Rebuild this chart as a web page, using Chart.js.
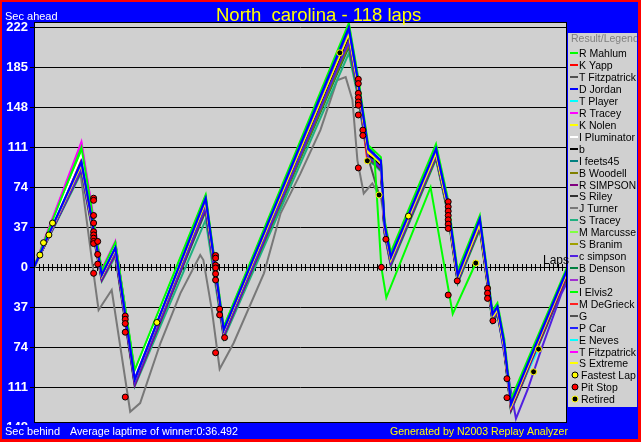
<!DOCTYPE html>
<html>
<head>
<meta charset="utf-8">
<script src="https://cdn.jsdelivr.net/npm/chart.js@4/dist/chart.umd.min.js"></script>
<style>
  html, body { margin: 0; padding: 0; background: #0000ff; }
  canvas { display: block; }
</style>
</head>
<body>
<canvas id="chart" width="641" height="442"></canvas>
<script>
// turning points of the race, shared by most drivers
const laps = [0, 10.5, 15, 18, 22.3, 38, 42, 69.7, 71.6, 74, 75.3, 76.8, 77.6, 79, 89, 91.5, 93.8, 98.7, 101.5, 102.6, 104.1, 105.6, 118];

const rMahlum   = [0, 111, -3, 23, -95, 67, -55, 226, 180, 113, 108, 102, 44, 14, 114, 66, -3, 48, -40, -33, -66, -122, 0];
const kYapp     = [0, 101, -5, 20, -100, 62, -57, 218, 172, 106, 102, 96, 38, 8, 108, 59, -9, 42, -45, -38, -72, -128, -4];
const tFitz     = [0, 92, -10, 14, -106, 58, -62, 208, 166, 102, 98, 92, 34, 4, 104, 56, -12, 38, -48, -41, -75, -131, -7];
const dJordan   = [0, 98, -7, 18, -104, 64, -58, 222, 176, 110, 105, 99, 40, 10, 110, 62, -7, 45, -43, -36, -70, -126, -2];
const tPlayer   = [0, 99, -6, 19, -102, 63, -57, 219, 174, 108, 103, 97, 39, 9, 109, 60, -8, 43, -44, -37, -71, -127, -3];
const rTracey   = [0, 116, -2, 24, -98, 65, -56, 220, 175, 109, 104, 98, 38, 9, 108, 60, -9, 43, -45, -38, -72, -128, -4];
const kNolen    = [0, 96, -8, 17, -103, 61, -59, 217, 173, 107, 104, 98, 42, 12, 106, 58, -10, 41, -46, -39, -73, -124, -1];
const iPlum     = [0, 104, -4, 21, -99, 63, -56, 220, 175, 109, 104, 98, 40, 11, 111, 61, -6, 44, -42, -35, -69, -125, -1];
const bDriver   = [0, 94, -9, 16, -105, 60, -60, 214, 170, 104, 100, 94, 36, 6, 105, 57, -11, 40, -47, -40, -74, -129, -5];
const iFeets45  = [0, 93, -9, 15, -106, 57, -61, 212, 169, 103, 99, 93, 35, 5, 104, 56, -12, 39, -48, -41, -75, -130, -6];
const bWoodell  = [0, 91, -11, 13, -108, 55, -63, 206, 165, 100, 97, 91, 33, 3, 102, 54, -13, 37, -49, -42, -76, -131, -8];
const rSimpson  = [0, 90, -12, 12, -109, 54, -64, 210, 167, 101, 97, 91, 33, 3, 103, 55, -13, 38, -49, -42, -76, -132, -8];
const sRiley    = [0, 95, -8, 16, -104, 60, -60, 213, 170, 104, 100, 94, 36, 6, 105, 57, -11, 40, -47, -40, -74, -129, -5];
const sTracey   = [0, 88, -13, 10, -110, 44, -66, 198, 160, 98, 95, 89, 31, 1, 100, 52, -15, 35, -51, -44, -78, -133, -10];
const mMarcusse = [0, 100, -5, 21, -99, 64, -56, 219, 174, 108, 103, 97, 39, 9, 109, 61, -8, 44, -44, -37, -71, -127, -3];
const sBranim   = [0, 92, -10, 14, -107, 57, -62, 211, 168, 103, 99, 93, 35, 5, 103, 55, -12, 39, -48, -41, -75, -130, -7];
const bDenson   = [0, 90, -11, 13, -108, 52, -63, 204, 163, 100, 96, 90, 32, 2, 101, 53, -14, 36, -50, -43, -77, -132, -9];
const pCar      = [0, 97, -7, 18, -103, 63, -58, 220, 175, 109, 104, 98, 39, 9, 109, 61, -8, 44, -44, -37, -71, -127, -3];
const tFitz2    = [0, 114, -3, 23, -99, 64, -57, 219, 174, 108, 103, 97, 38, 8, 108, 60, -9, 43, -45, -38, -72, -128, -4];
const sExtreme  = [0, 95, -8, 17, -104, 61, -59, 216, 172, 106, 102, 96, 37, 7, 106, 58, -10, 41, -46, -39, -73, -129, -5];

// drivers with their own laps
const turnerLaps = [0, 10.2, 13.5, 14.3, 17.2, 21.3, 23.5, 28, 32.4, 36.8, 37.5, 39.4, 41.1, 44.2, 50.9, 54.6, 59, 63.4, 67.1, 69, 70.5, 71.6, 73, 74.9, 76.8, 79, 89, 91.5, 93.8, 98.7, 101.5, 102.6, 104.1, 105.6, 118];
const turnerSec  = [0, 90, -15, -39.5, -21, -133.6, -125.6, -70, -24, 11.4, 6.8, -40, -94, -70, -5.5, 50, 87, 127, 173, 176, 155, 99, 68.4, 77.7, 65, 4, 103, 55, -13, 37, -49, -42, -76, -131, -8];
const cSimpsonLaps = [0, 10.5, 15, 18, 22.3, 38, 42, 69.7, 71.6, 74, 75.3, 76.8, 77.6, 79, 89, 91.5, 93.8, 98.7, 101.5, 102.6, 104.1, 106.7, 109.3, 112.2, 116.7, 118];
const cSimpsonSec  = [0, 91, -10, 14, -107, 56, -62, 209, 166, 102, 98, 92, 34, 4, 104, 56, -12, 39, -48, -41, -80, -140, -113, -77, -25, -14];
const bLaps = [0, 10.5, 15, 18, 22.3, 38, 42, 67.7];
const bSec  = [0, 93, -9, 15, -106, 58, -61, 198.5];
const elvisLaps = [0, 10.5, 15, 18, 22.3, 38, 42, 69.7, 71.6, 74, 75.3, 76.9, 78, 87.8, 92.7, 97.8];
const elvisSec  = [0, 108, -4, 22, -96, 66, -56, 224, 178, 111, 106, 0, -28, 74, -43, 4];
const deGrieckLaps = [0, 10.5, 15, 18, 22.3, 38, 42, 69.7, 71.6, 73.8];
const deGrieckSec  = [0, 100, -6, 19, -101, 62, -58, 216, 171, 98.6];
const gLaps = [0, 10.5, 15, 18, 22.3, 38, 42, 69.7, 71.6, 74, 76.4];
const gSec  = [0, 91, -10, 14, -107, 56, -62, 206, 164, 101, 67];
const nevesLaps = [0, 10.5, 15, 18, 22.3, 38, 42, 69.7, 71.6, 74, 75.3, 76.8, 77.6, 79, 89, 91.5, 93.8, 98.7, 101.5, 102.6, 104.1, 105.6, 111.7];
const nevesSec  = [0, 99, -6, 19, -102, 62, -58, 218, 173, 107, 103, 97, 38, 8, 108, 60, -9, 42, -45, -38, -72, -128, -75.6];

// markers
const fastestLaps = [1.3, 2.1, 3.3, 4.1, 27.2, 82.9];
const fastestSec  = [11.4, 22.8, 30, 41, -51, 47.4];
const pitLaps = [13.2, 13.2, 13.2, 13.2, 13.2, 13.2, 13.2, 13.2, 13.2, 14.1, 14.1, 14.1, 13.2,
  20.2, 20.2, 20.2, 20.2, 20.2,
  40.2, 40.2, 40.2, 40.2, 40.2, 40.2, 40.2, 41.1, 41.1, 42.2,
  71.8, 71.8, 71.8, 71.8, 71.8, 71.8, 71.8, 71.8, 72.8, 72.8,
  77.9, 76.9,
  91.7, 91.7, 91.7, 91.7, 91.7, 91.7, 91.7, 91.7, 93.7,
  100.4, 100.4, 100.4, 101.6, 104.7, 104.7];
const pitSec = [64, 62, 48, 41, 33, 30, 27, 24, 22, 24, 12, 3, -5.5,
  -45, -48, -52, -60, -120,
  11, 8.5, 2, -0.5, -6, -11.7, -79, -38.6, -44, -65,
  174, 170, 161, 157, 153, 150, 141, 92, 127, 122,
  26, 0,
  60.7, 56, 52, 48, 44, 40, 36, -25.6, -12.5,
  -19.4, -24, -28.7, -49.4, -103, -120.6];
const retiredLaps = [67.7, 73.8, 76.4, 97.8, 110.6, 111.7];
const retiredSec  = [198.5, 98.6, 67, 4, -96.6, -75.6];

const yTicks = [222, 185, 148, 111, 74, 37, 0, -37, -74, -111];

// name, colour, laps, seconds, draw order (lower = on top)
const drivers = [
  ['R Mahlum', '#00ff00', laps, rMahlum, 3],
  ['K Yapp', '#ff0000', laps, kYapp, 8],
  ['T Fitzpatrick', '#505050', laps, tFitz, 20],
  ['D Jordan', '#0000ff', laps, dJordan, 1],
  ['T Player', '#00ffff', laps, tPlayer, 9],
  ['R Tracey', '#ff00ff', laps, rTracey, 7],
  ['K Nolen', '#ffff00', laps, kNolen, 4],
  ['I Pluminator', '#ffffff', laps, iPlum, 5],
  ['b', '#000000', laps, bDriver, 14],
  ['I feets45', '#008080', laps, iFeets45, 15],
  ['B Woodell', '#808000', laps, bWoodell, 16],
  ['R SIMPSON', '#800080', laps, rSimpson, 12],
  ['S Riley', '#303030', laps, sRiley, 17],
  ['J Turner', '#787878', turnerLaps, turnerSec, 30],
  ['S Tracey', '#20b080', laps, sTracey, 25],
  ['M Marcusse', '#80ff40', laps, mMarcusse, 10],
  ['S Branim', '#a0a000', laps, sBranim, 18],
  ['c simpson', '#5020e0', cSimpsonLaps, cSimpsonSec, 11],
  ['B Denson', '#008040', laps, bDenson, 22],
  ['B', '#a030d0', bLaps, bSec, 19],
  ['I Elvis2', '#00ff00', elvisLaps, elvisSec, 6],
  ['M DeGrieck', '#ff2020', deGrieckLaps, deGrieckSec, 21],
  ['G', '#505050', gLaps, gSec, 23],
  ['P Car', '#2020ff', laps, pCar, 2],
  ['E Neves', '#00ffff', nevesLaps, nevesSec, 13],
  ['T Fitzpatrick', '#ff00ff', laps, tFitz2, 9],
  ['S Extreme', '#ffff00', laps, sExtreme, 5]
];

const markers = [
  ['Fastest Lap', '#ffff00', '#000000', fastestLaps, fastestSec],
  ['Pit Stop', '#ff0000', '#000000', pitLaps, pitSec],
  ['Retired', '#000000', '#ffff00', retiredLaps, retiredSec]
];

const FONT = '"Liberation Sans", Arial, sans-serif';

function points(xs, ys) {
  return xs.map((x, i) => ({ x: x, y: ys[i] }));
}

const datasets = drivers.map(d => ({
  label: d[0],
  data: points(d[2], d[3]),
  borderColor: d[1],
  borderWidth: 2,
  pointRadius: 0,
  tension: 0,
  fill: false,
  order: d[4]
}));

markers.forEach(m => {
  datasets.push({
    label: m[0],
    data: points(m[3], m[4]),
    showLine: false,
    pointStyle: 'circle',
    pointRadius: 3,
    pointBackgroundColor: m[1],
    pointBorderColor: m[2],
    pointBorderWidth: 1,
    order: 0
  });
});

const decor = {
  id: 'decor',
  beforeDraw(chart) {
    const ctx = chart.ctx, a = chart.chartArea;
    ctx.save();
    ctx.fillStyle = '#ff0000';
    ctx.fillRect(0, 0, 641, 442);
    ctx.fillStyle = '#0000ff';
    ctx.fillRect(2, 2, 636, 437);
    ctx.fillStyle = '#d0d0d0';
    ctx.fillRect(a.left, a.top, a.right - a.left, a.bottom - a.top);
    ctx.fillRect(568, 33, 69, 374);
    ctx.restore();
  },
  beforeDatasetsDraw(chart) {
    // lap ticks along the zero line
    const ctx = chart.ctx, xs = chart.scales.x, ys = chart.scales.y;
    const y0 = Math.round(ys.getPixelForValue(0));
    ctx.save();
    ctx.strokeStyle = '#000';
    ctx.lineWidth = 1;
    ctx.beginPath();
    for (let l = 1; l < 118; l++) {
      const x = Math.round(xs.getPixelForValue(l)) + 0.5;
      ctx.moveTo(x, y0 - 3);
      ctx.lineTo(x, y0 + 4);
    }
    ctx.stroke();
    ctx.fillStyle = '#000';
    ctx.font = '12px ' + FONT;
    ctx.textBaseline = 'alphabetic';
    ctx.fillText('Laps', 543, y0 - 3);
    ctx.restore();
  },
  afterDatasetsDraw(chart) {
    const ctx = chart.ctx, a = chart.chartArea;
    ctx.save();
    ctx.strokeStyle = '#000';
    ctx.lineWidth = 1;
    ctx.strokeRect(a.left + 0.5, a.top + 0.5, a.right - a.left - 1, a.bottom - a.top - 1);
    ctx.restore();
  },
  afterDraw(chart) {
    const ctx = chart.ctx, ys = chart.scales.y;
    ctx.save();
    ctx.textBaseline = 'alphabetic';
    // title
    ctx.fillStyle = '#ffff00';
    ctx.font = '18.5px ' + FONT;
    ctx.textAlign = 'left';
    ctx.fillText('North  carolina - 118 laps', 216, 21, 206);
    // axis captions
    ctx.fillStyle = '#ffffff';
    ctx.font = '11px ' + FONT;
    ctx.fillText('Sec ahead', 5, 20);
    ctx.fillText('Sec behind', 5, 435);
    ctx.fillText('Average laptime of winner:0:36.492', 70, 435, 168);
    ctx.fillStyle = '#ffff00';
    ctx.fillText('Generated by N2003 Replay Analyzer', 390, 435, 178);
    // clipped bottom tick label
    ctx.save();
    ctx.beginPath();
    ctx.rect(0, 0, 34, 425);
    ctx.clip();
    ctx.fillStyle = '#ffffff';
    ctx.font = 'bold 13px ' + FONT;
    ctx.textAlign = 'right';
    ctx.textBaseline = 'middle';
    ctx.fillText('148', 28, ys.getPixelForValue(-148));
    ctx.restore();
    // legend
    ctx.save();
    ctx.beginPath();
    ctx.rect(568, 33, 69, 374);
    ctx.clip();
    ctx.font = '10.5px ' + FONT;
    ctx.textAlign = 'left';
    ctx.fillStyle = '#808080';
    ctx.fillText('Result/Legend', 571, 42);
    const step = 11.93;
    drivers.forEach((d, i) => {
      const y = Math.round(53.3 + i * step);
      ctx.strokeStyle = d[1];
      ctx.lineWidth = 2;
      ctx.beginPath();
      ctx.moveTo(570, y);
      ctx.lineTo(578, y);
      ctx.stroke();
      ctx.fillStyle = '#000';
      ctx.fillText(d[0], 579, y + 4, 57);
    });
    markers.forEach((m, j) => {
      const y = Math.round(53.3 + (drivers.length + j) * step);
      ctx.beginPath();
      ctx.arc(575, y, 3, 0, Math.PI * 2);
      ctx.fillStyle = m[1];
      ctx.fill();
      ctx.strokeStyle = m[2];
      ctx.lineWidth = 1;
      ctx.stroke();
      ctx.fillStyle = '#000';
      ctx.fillText(m[0], 581, y + 4, 55);
    });
    ctx.restore();
    ctx.restore();
  }
};

new Chart(document.getElementById('chart'), {
  type: 'line',
  data: { datasets: datasets },
  options: {
    responsive: false,
    devicePixelRatio: 1,
    animation: false,
    events: [],
    layout: { padding: { left: 0, top: 22, right: 74, bottom: 19 } },
    plugins: {
      legend: { display: false },
      tooltip: { enabled: false },
      title: { display: false }
    },
    scales: {
      x: { type: 'linear', min: 0, max: 118, display: false },
      y: {
        type: 'linear',
        min: -144,
        max: 227,
        afterBuildTicks: s => { s.ticks = yTicks.map(v => ({ value: v })); },
        afterFit: s => { s.width = 34; },
        grid: { color: '#000', lineWidth: 1, tickLength: 4, tickColor: '#000' },
        border: { display: false },
        ticks: {
          color: '#ffffff',
          padding: 2,
          font: { family: FONT, size: 13, weight: 'bold' },
          callback: v => Math.abs(v)
        }
      }
    }
  },
  plugins: [decor]
});
</script>
</body>
</html>
